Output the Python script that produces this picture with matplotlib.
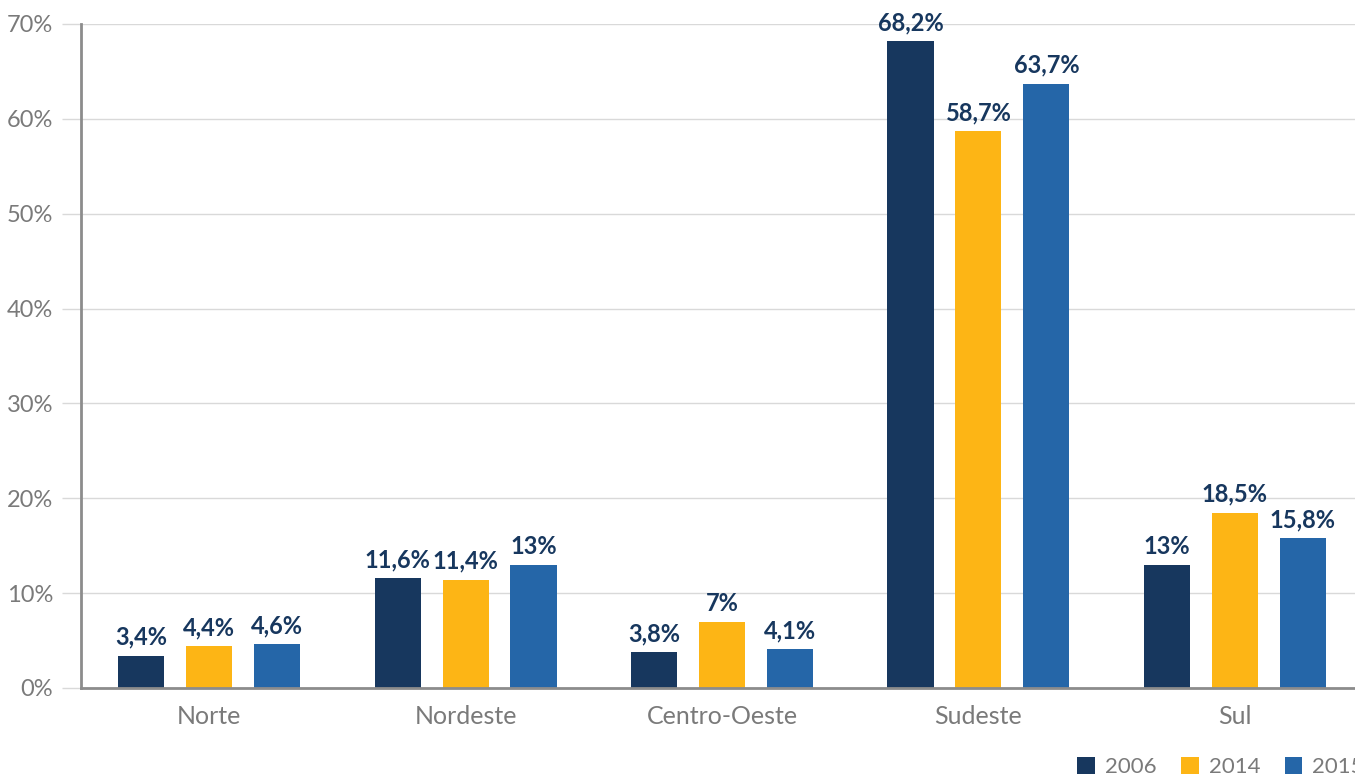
import matplotlib
matplotlib.use("Agg")
import matplotlib.pyplot as plt
from matplotlib.patches import Patch
import numpy as np

regions = ["Norte", "Nordeste", "Centro-Oeste", "Sudeste", "Sul"]
years = ["2006", "2014", "2015"]
v2006 = [3.4, 11.6, 3.8, 68.2, 13.0]
v2014 = [4.4, 11.4, 7.0, 58.7, 18.5]
v2015 = [4.6, 13.0, 4.1, 63.7, 15.8]
yticks = [0, 10, 20, 30, 40, 50, 60, 70]

colors = ["#17375e", "#fdb515", "#2566a8"]
label_color = "#17375e"
tick_color = "#7a7a7a"

plt.rcParams["font.family"] = ["Lato", "DejaVu Sans"]

fig = plt.figure(figsize=(13.55, 7.78), dpi=100)
ax = fig.add_axes([81 / 1355, 90 / 778, (1363 - 81) / 1355, (754 - 90) / 778])

x = np.arange(len(regions))
width = 0.18
offset = 0.265


def fmt(v):
    if float(v).is_integer():
        return f"{int(v)}%"
    return f"{v:.1f}%".replace(".", ",")


for i, (vals, col) in enumerate(zip([v2006, v2014, v2015], colors)):
    pos = x + (i - 1) * offset
    bars = ax.bar(pos, vals, width=width, color=col, zorder=3)
    for b, v in zip(bars, vals):
        ax.annotate(fmt(v), (b.get_x() + b.get_width() / 2, v),
                    xytext=(0, 5), textcoords="offset points",
                    ha="center", va="bottom", fontsize=17,
                    fontweight="bold", color=label_color)

ax.set_xlim(-0.5, 4.5)
ax.set_ylim(0, 70)
ax.set_yticks(yticks)
ax.set_yticklabels([f"{t}%" for t in yticks], fontsize=17,
                   fontweight="normal", color=tick_color)
ax.set_xticks(x)
ax.set_xticklabels(regions, fontsize=18, fontweight="normal", color=tick_color)

ax.yaxis.grid(True, color="#d9d9d9", linewidth=1, zorder=0)
ax.tick_params(axis="y", length=14, color="#d9d9d9", width=1, pad=6)
ax.tick_params(axis="x", length=0, pad=12)

for s in ["top", "right"]:
    ax.spines[s].set_visible(False)
for s in ["left", "bottom"]:
    ax.spines[s].set_color("#8c8c8c")
    ax.spines[s].set_linewidth(2)
    ax.spines[s].set_zorder(4)

handles = [Patch(facecolor=c, edgecolor="none") for c in colors]
fig.legend(handles, years, loc="lower left", bbox_to_anchor=(1057 / 1355, -0.025),
           ncol=3, frameon=False, fontsize=16, handlelength=0.8, handleheight=0.8,
           handletextpad=0.45, columnspacing=1.1, labelcolor=tick_color)

fig.savefig("out.png", dpi=100)
